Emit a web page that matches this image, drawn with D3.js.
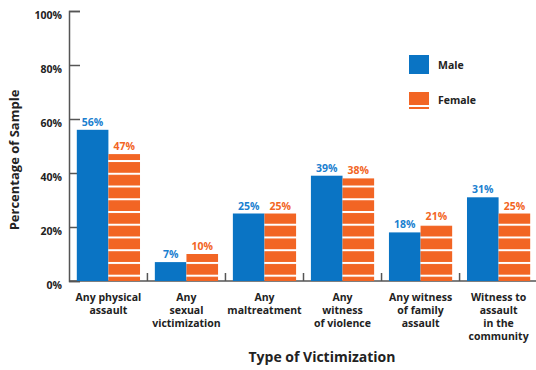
<!DOCTYPE html>
<html>
<head>
<meta charset="utf-8">
<script src="https://cdn.jsdelivr.net/npm/d3@7"></script>
<style>
  body { margin: 0; background: #fff; }
  text { font-family: "Open Sans", Lato, sans-serif; font-weight: 700; }
</style>
</head>
<body>
<div id="chart"></div>
<script>
const categories = [
  ['Any physical', 'assault'],
  ['Any', 'sexual', 'victimization'],
  ['Any', 'maltreatment'],
  ['Any', 'witness', 'of violence'],
  ['Any witness', 'of family', 'assault'],
  ['Witness to', 'assault', 'in the', 'community']
]
const male = [56, 7, 25, 39, 18, 31]
const female = [47, 10, 25, 38, 21, 25]
const yTicks = [0, 20, 40, 60, 80, 100]

const blue = '#0a74c4'
const orange = '#f26524'
const ink = '#222'

const width = 536
const height = 370

const svg = d3.select('#chart')
  .append('svg')
  .attr('width', width)
  .attr('height', height)

// horizontal white stripes for the female bars
const defs = svg.append('defs')
const pat = defs.append('pattern')
  .attr('id', 'stripes')
  .attr('patternUnits', 'userSpaceOnUse')
  .attr('width', 10)
  .attr('height', 12.74)
  .attr('y', 275.7 - 12.74 * 21 - 1)
pat.append('rect').attr('width', 10).attr('height', 12.74).attr('fill', orange)
pat.append('rect').attr('y', 0).attr('width', 10).attr('height', 2).attr('fill', '#fff')

const y = d3.scaleLinear().domain([0, 100]).range([281, 11])
const x = d3.scaleBand()
  .domain(d3.range(categories.length))
  .range([69, 538])
  .paddingInner(0.19)
  .paddingOuter(0.1)
const xs = d3.scaleBand().domain(['m', 'f']).range([0, x.bandwidth()])

// y axis
const yAxis = d3.axisRight(y)
  .tickValues(yTicks)
  .tickSize(11)
  .tickFormat('')
const ya = svg.append('g').attr('transform', 'translate(69,0)').call(yAxis)
ya.select('.domain').attr('stroke', '#555').attr('stroke-width', 1.5)
ya.selectAll('.tick line').attr('stroke', '#555').attr('stroke-width', 1.5)

svg.append('g').selectAll('text')
  .data(yTicks)
  .join('text')
  .attr('x', 62)
  .attr('y', d => y(d) + 8)
  .attr('text-anchor', 'end')
  .attr('font-size', 10.5)
  .attr('fill', ink)
  .text(d => d + '%')

// baseline
svg.append('line')
  .attr('x1', 69).attr('x2', 536)
  .attr('y1', 281).attr('y2', 281)
  .attr('stroke', '#555').attr('stroke-width', 1.5)

// small separators between groups
const step = x.step()
svg.append('g').selectAll('line')
  .data(d3.range(1, categories.length))
  .join('line')
  .attr('x1', i => x(i) - (step - x.bandwidth()) / 2)
  .attr('x2', i => x(i) - (step - x.bandwidth()) / 2)
  .attr('y1', 273).attr('y2', 281)
  .attr('stroke', '#555').attr('stroke-width', 1.5)

// bars
const groups = svg.append('g').selectAll('g')
  .data(categories)
  .join('g')
  .attr('transform', (d, i) => `translate(${x(i)},0)`)

groups.append('rect')
  .attr('x', xs('m'))
  .attr('width', xs.bandwidth())
  .attr('y', (d, i) => y(male[i]))
  .attr('height', (d, i) => y(0) - y(male[i]))
  .attr('fill', blue)

groups.append('rect')
  .attr('x', xs('f'))
  .attr('width', xs.bandwidth())
  .attr('y', (d, i) => y(female[i]))
  .attr('height', (d, i) => y(0) - y(female[i]))
  .attr('fill', 'url(#stripes)')

groups.append('text')
  .attr('x', xs('m') + xs.bandwidth() / 2)
  .attr('y', (d, i) => y(male[i]) - 4)
  .attr('text-anchor', 'middle')
  .attr('font-size', 10.5)
  .attr('fill', '#1a7fd0')
  .text((d, i) => male[i] + '%')

groups.append('text')
  .attr('x', xs('f') + xs.bandwidth() / 2)
  .attr('y', (d, i) => y(female[i]) - 4)
  .attr('text-anchor', 'middle')
  .attr('font-size', 10.5)
  .attr('fill', orange)
  .text((d, i) => female[i] + '%')

// category labels
groups.append('text')
  .attr('text-anchor', 'middle')
  .attr('font-size', 10.5)
  .attr('fill', ink)
  .selectAll('tspan')
  .data(d => d)
  .join('tspan')
  .attr('x', x.bandwidth() / 2)
  .attr('y', (d, j) => 301 + j * 13)
  .text(d => d)

// axis titles
svg.append('text')
  .attr('x', 322).attr('y', 362)
  .attr('text-anchor', 'middle')
  .attr('font-size', 14)
  .attr('fill', ink)
  .text('Type of Victimization')

svg.append('text')
  .attr('transform', 'translate(19,160) rotate(-90)')
  .attr('text-anchor', 'middle')
  .attr('font-size', 13)
  .attr('fill', ink)
  .text('Percentage of Sample')

// legend
const legend = svg.append('g').attr('transform', 'translate(409,55)')
legend.append('rect').attr('width', 20).attr('height', 19).attr('fill', blue)
legend.append('text').attr('x', 29).attr('y', 14).attr('font-size', 10.5).attr('fill', ink).text('Male')
legend.append('rect').attr('y', 37).attr('width', 20).attr('height', 13).attr('fill', orange)
legend.append('rect').attr('y', 52).attr('width', 20).attr('height', 2).attr('fill', orange)
legend.append('text').attr('x', 29).attr('y', 49).attr('font-size', 10.5).attr('fill', ink).text('Female')
</script>
</body>
</html>
